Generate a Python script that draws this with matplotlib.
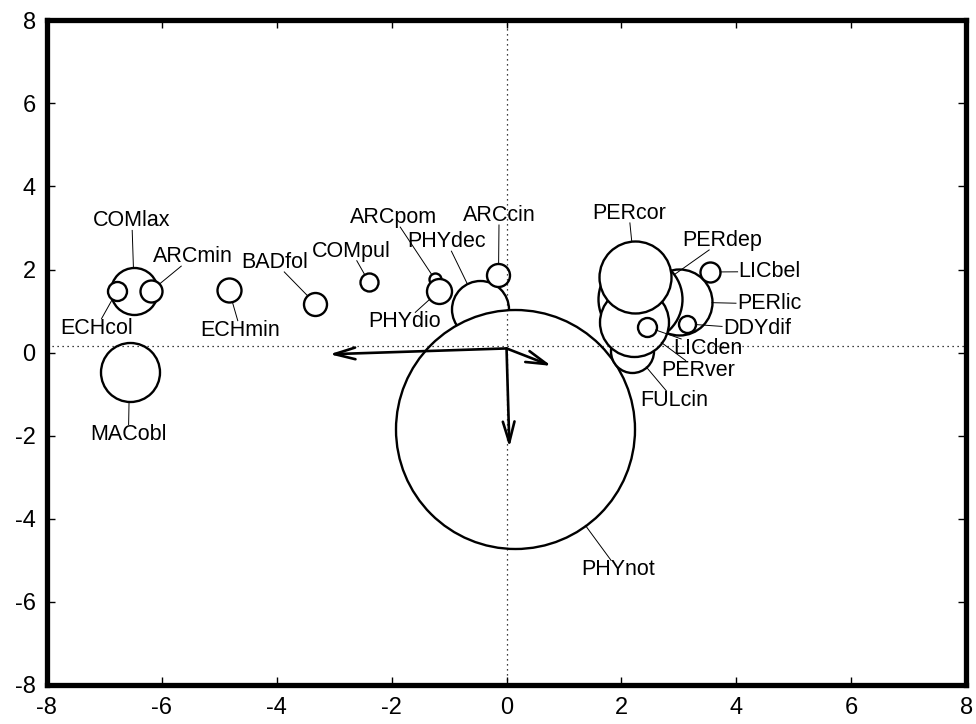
import numpy as np
import matplotlib
matplotlib.use('Agg')
import matplotlib.pyplot as plt

plt.rcParams['font.family'] = ['Liberation Sans', 'DejaVu Sans']
plt.rcParams['axes.unicode_minus'] = False

# species: position, circle size (radius in px at 100 dpi), label position
names = ['MACobl', 'COMlax', 'ECHcol', 'ARCmin', 'ECHmin', 'BADfol', 'COMpul',
         'ARCpom', 'PHYdio', 'PHYdec', 'ARCcin', 'PHYnot', 'PERlic', 'PERdep',
         'FULcin', 'PERver', 'PERcor', 'LICden', 'DDYdif', 'LICbel']
xs = [-6.56, -6.48, -6.78, -6.19, -4.83, -3.33, -2.40,
      -1.25, -1.18, -0.47, -0.14, 0.14, 3.00, 2.32,
      2.19, 2.21, 2.24, 2.44, 3.14, 3.54]
ys = [-0.47, 1.48, 1.48, 1.48, 1.50, 1.18, 1.71,
      1.77, 1.48, 1.05, 1.86, -1.84, 1.22, 1.29,
      0.05, 0.74, 1.83, 0.62, 0.69, 1.94]
sizes = [29.5, 23.5, 9.5, 11, 12, 11.5, 9,
         6, 12.5, 28.5, 11.5, 119.5, 33, 42,
         21.5, 34.5, 36, 9.5, 8.5, 10]
lab_x = [-6.58, -6.52, -7.14, -5.46, -4.63, -4.03, -2.70,
         -1.96, -1.77, -1.04, -0.13, 1.94, 4.57, 3.76,
         2.92, 3.34, 2.13, 3.51, 4.36, 4.58]
lab_y = [-1.96, 3.17, 0.59, 2.31, 0.54, 2.17, 2.44,
         3.25, 0.74, 2.67, 3.30, -5.23, 1.17, 2.70,
         -1.15, -0.42, 3.35, 0.10, 0.57, 1.95]

# variable arrows
arrow_origin = (0.0, 0.10)
arrow_dx = [-3.08, 0.05, 0.78]
arrow_dy = [-0.14, -2.38, -0.42]

ref_x = 0.0
ref_y = 0.17

dpi = 100
fig = plt.figure(figsize=(9.76, 7.24), dpi=dpi)
ax = fig.add_axes([0.048, 0.054, 0.942, 0.918])
ax.set_xlim(-8, 8)
ax.set_ylim(-8, 8)
ax.set_xticks(np.arange(-8, 9, 2))
ax.set_yticks(np.arange(-8, 9, 2))
ax.tick_params(direction='in', length=6, width=1, top=True, right=True,
               labelsize=17)
ax.tick_params(axis='x', pad=9)
ax.tick_params(axis='y', pad=8)
for s in ax.spines.values():
    s.set_linewidth(3.8)
    s.set_zorder(50)

px2pt = 72.0 / dpi
for i in range(len(names)):
    d = 2 * sizes[i] * px2pt
    ax.scatter([xs[i]], [ys[i]], s=d ** 2, facecolor='white', edgecolor='black',
               linewidth=1.7, zorder=2 + i * 0.01)

ax.axvline(ref_x, color='black', lw=0.9, ls=(0, (1, 3)), zorder=5)
ax.axhline(ref_y, color='black', lw=0.9, ls=(0, (1, 3)), zorder=5)

for dx, dy in zip(arrow_dx, arrow_dy):
    ax.annotate('', xy=(arrow_origin[0] + dx, arrow_origin[1] + dy), xytext=arrow_origin,
                arrowprops=dict(arrowstyle='->, head_length=1.5, head_width=0.42',
                                lw=1.9, color='black', shrinkA=0, shrinkB=0),
                zorder=6)

texts = []
for i in range(len(names)):
    t = ax.text(lab_x[i], lab_y[i], names[i], fontsize=15.5, ha='center', va='center',
                zorder=10)
    texts.append(t)

# leader lines from label box to circle edge
fig.canvas.draw()
r = fig.canvas.get_renderer()
inv = ax.transData.inverted()
for i, t in enumerate(texts):
    bb = t.get_window_extent(renderer=r)
    cx, cy = ax.transData.transform((xs[i], ys[i]))
    lx, ly = (bb.x0 + bb.x1) / 2, (bb.y0 + bb.y1) / 2
    vx, vy = cx - lx, cy - ly
    dist = np.hypot(vx, vy)
    ux, uy = vx / dist, vy / dist
    hw, hh = bb.width / 2 + 1, bb.height / 2 - 1
    tx = hw / abs(ux) if ux != 0 else np.inf
    ty = hh / abs(uy) if uy != 0 else np.inf
    tt = min(tx, ty)
    p0 = (lx + ux * tt, ly + uy * tt)
    p1 = (cx - ux * sizes[i], cy - uy * sizes[i])
    if np.hypot(p1[0] - lx, p1[1] - ly) <= tt:
        continue
    a = inv.transform(p0)
    b = inv.transform(p1)
    ax.plot([a[0], b[0]], [a[1], b[1]], color='black', lw=0.7, zorder=9)

fig.savefig('out.png', dpi=dpi)
